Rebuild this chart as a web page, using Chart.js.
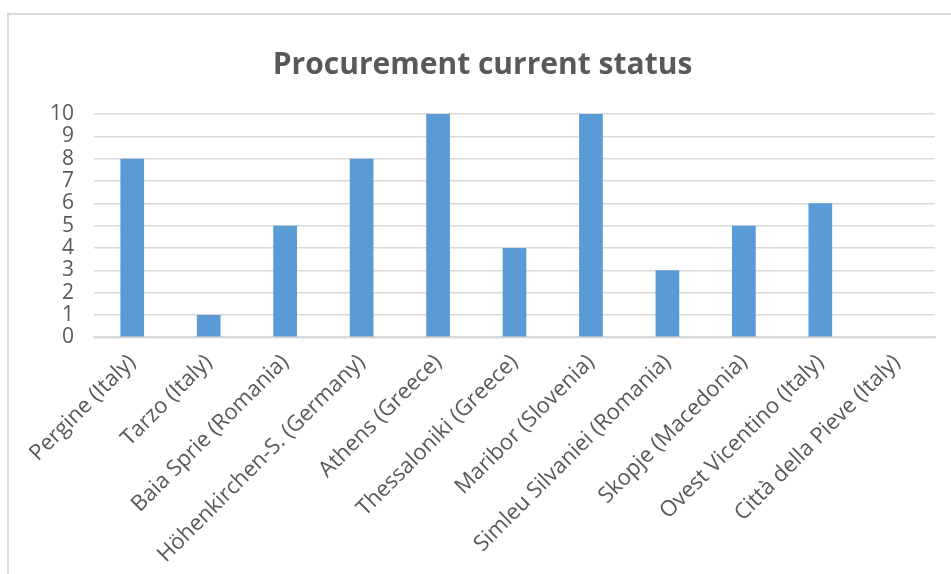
<!DOCTYPE html>
<html>
<head>
<meta charset="utf-8">
<script src="https://cdn.jsdelivr.net/npm/chart.js@4"></script>
<style>
  html, body { margin: 0; padding: 0; background: #fff; }
  #wrap { position: relative; width: 951px; height: 574px; overflow: hidden; }
  #frame { position: absolute; left: 7px; top: 13px; width: 960px; height: 600px; border: 2px solid #d9d9d9; box-sizing: border-box; }
  #chart { position: absolute; left: 0; top: 0; }
</style>
</head>
<body>
<div id="wrap">
  <div id="frame"></div>
  <canvas id="chart" width="951" height="580"></canvas>
</div>
<script>
// categories and values
const sites = [
    'Pergine (Italy)',
    'Tarzo (Italy)',
    'Baia Sprie (Romania)',
    'Höhenkirchen-S. (Germany)',
    'Athens (Greece)',
    'Thessaloniki (Greece)',
    'Maribor (Slovenia)',
    'Simleu Silvaniei (Romania)',
    'Skopje (Macedonia)',
    'Ovest Vicentino (Italy)',
    'Città della Pieve (Italy)'
];
const statusValues = [8, 1, 5, 8, 10, 4, 10, 3, 5, 6, 0];
const chartTitle = 'Procurement current status';

const ctx = document.getElementById('chart').getContext('2d');

new Chart(ctx, {
    type: 'bar',
    data: {
        labels: sites,
        datasets: [{
            label: 'Status',
            data: statusValues,
            backgroundColor: '#5b9bd5',
            borderColor: '#5b9bd5',
            borderWidth: 0,
            barPercentage: 0.62,
            categoryPercentage: 0.5
        }]
    },
    options: {
        responsive: false,
        animation: false,
        layout: {
            padding: { left: 30, right: 16, top: 47, bottom: 0 }
        },
        plugins: {
            legend: { display: false },
            tooltip: { enabled: false },
            title: {
                display: true,
                text: chartTitle,
                color: '#595959',
                font: { family: 'Open Sans', size: 30, weight: 'bold' },
                padding: { top: 0, bottom: 31 }
            }
        },
        scales: {
            x: {
                grid: { display: false, drawTicks: false },
                border: { display: true, color: '#d9d9d9', width: 2 },
                ticks: {
                    color: '#595959',
                    font: { family: 'Open Sans', size: 22 },
                    maxRotation: 45,
                    minRotation: 45,
                    autoSkip: false,
                    padding: 12
                }
            },
            y: {
                min: 0,
                max: 10,
                grid: { color: '#d9d9d9', lineWidth: 1.5, drawTicks: false },
                border: { display: false },
                ticks: {
                    stepSize: 1,
                    autoSkip: false,
                    color: '#595959',
                    font: { family: 'Open Sans', size: 21 },
                    padding: 20
                }
            }
        }
    }
});
</script>
</body>
</html>
